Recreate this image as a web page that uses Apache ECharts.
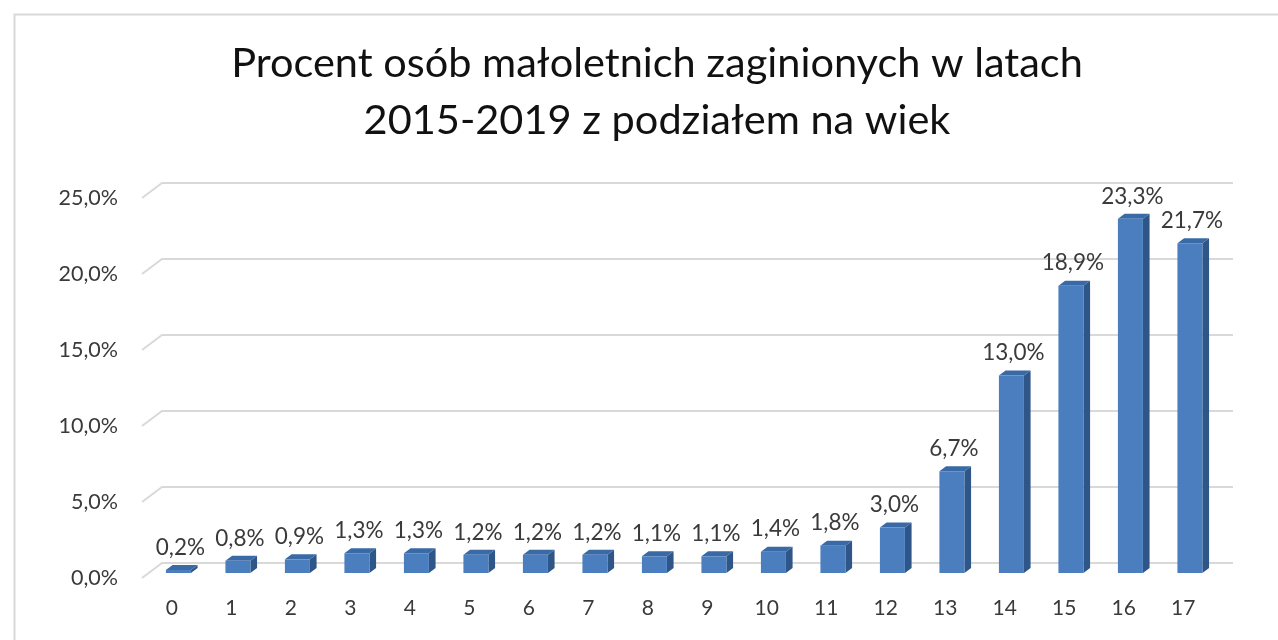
<!DOCTYPE html>
<html>
<head>
<meta charset="utf-8">
<script src="https://cdn.jsdelivr.net/npm/echarts@6/dist/echarts.min.js"></script>
<style>
html,body{margin:0;padding:0;background:#fff;}
#chart{width:1278px;height:640px;}
</style>
</head>
<body>
<div id="chart"></div>
<script>
// ---- data ----
const titleText = 'Procent osób małoletnich zaginionych w latach\n2015-2019 z podziałem na wiek';
const ages = ['0','1','2','3','4','5','6','7','8','9','10','11','12','13','14','15','16','17'];
const percents = [0.2, 0.8, 0.9, 1.3, 1.3, 1.2, 1.2, 1.2, 1.1, 1.1, 1.4, 1.8, 3.0, 6.7, 13.0, 18.9, 23.3, 21.7];
const yTicks = [0, 5, 10, 15, 20, 25];

// ---- style constants ----
const DEPTH_X = 20, DEPTH_Y = -15;      // full wall depth
const BAR_OFF = 1/3, BAR_DEPTH = 1/3;   // bar front at 1/3, back at 2/3
const BAR_W = 25;
const FONT = 'Lato';
const fmt = v => v.toFixed(1).replace('.', ',') + '%';

const chart = echarts.init(document.getElementById('chart'));

const option = {
  animation: false,
  backgroundColor: '#fff',
  graphic: [{
    type: 'rect', left: 12, top: 12,
    shape: {width: 1300, height: 700},
    style: {fill: 'none', stroke: '#d9d9d9', lineWidth: 2},
    silent: true, z: -10
  }],
  title: {
    text: titleText,
    left: 652, top: 30, textAlign: 'center',
    textStyle: {fontFamily: FONT, fontSize: 41.5, fontWeight: 'normal', color: '#111', lineHeight: 57}
  },
  grid: {left: 142, right: 65, top: 198, bottom: 62},
  xAxis: {
    type: 'category', data: ages,
    axisLine: {show: false}, axisTick: {show: false},
    axisLabel: {margin: 20, fontFamily: FONT, fontSize: 21, color: '#3a3a3a'}
  },
  yAxis: {
    type: 'value', min: 0, max: 25, interval: 5,
    axisLine: {show: false}, axisTick: {show: false}, splitLine: {show: false},
    axisLabel: {margin: 24, fontFamily: FONT, fontSize: 21.5, color: '#3a3a3a', formatter: fmt}
  },
  series: [
    {
      type: 'custom', name: 'grid', data: yTicks.map(v => [0, v]), z: 1, silent: true,
      renderItem: function (params, api) {
        const cs = params.coordSys;
        const y = api.coord([0, api.value(1)])[1];
        const x0 = cs.x;
        return {
          type: 'polyline',
          shape: {points: [[x0, y], [x0 + DEPTH_X, y + DEPTH_Y], [cs.x + cs.width + DEPTH_X, y + DEPTH_Y]]},
          style: {stroke: '#d9d9d9', lineWidth: 2, fill: null}
        };
      }
    },
    {
      type: 'custom', name: 'bars', data: percents.map((v, i) => [i, v]), z: 5,
      renderItem: function (params, api) {
        const i = api.value(0), v = api.value(1);
        const top = api.coord([i, v]);
        const bot = api.coord([i, 0]);
        const ox = DEPTH_X * BAR_OFF, oy = DEPTH_Y * BAR_OFF;
        const dx = DEPTH_X * BAR_DEPTH, dy = DEPTH_Y * BAR_DEPTH;
        const xl = top[0] - BAR_W / 2 + ox, xr = xl + BAR_W;
        const yt = top[1] + oy, yb = bot[1] + oy;
        return {
          type: 'group',
          children: [
            {type: 'polygon', shape: {points: [[xr, yt], [xr + dx, yt + dy], [xr + dx, yb + dy], [xr, yb]]},
             style: {fill: '#2f5688'}},
            {type: 'polygon', shape: {points: [[xl, yt], [xl + dx, yt + dy], [xr + dx, yt + dy], [xr, yt]]},
             style: {fill: '#3a6aa6'}},
            {type: 'rect', shape: {x: xl, y: yt, width: BAR_W, height: yb - yt},
             style: {fill: '#4a7ebf'}},
            {type: 'text', x: (xl + xr) / 2 + 2, y: yt - 11,
             style: {text: fmt(v), fontFamily: FONT, fontSize: 22.5, fill: '#3a3a3a', align: 'center', verticalAlign: 'bottom'}}
          ]
        };
      }
    }
  ]
};
chart.setOption(option);
</script>
</body>
</html>
